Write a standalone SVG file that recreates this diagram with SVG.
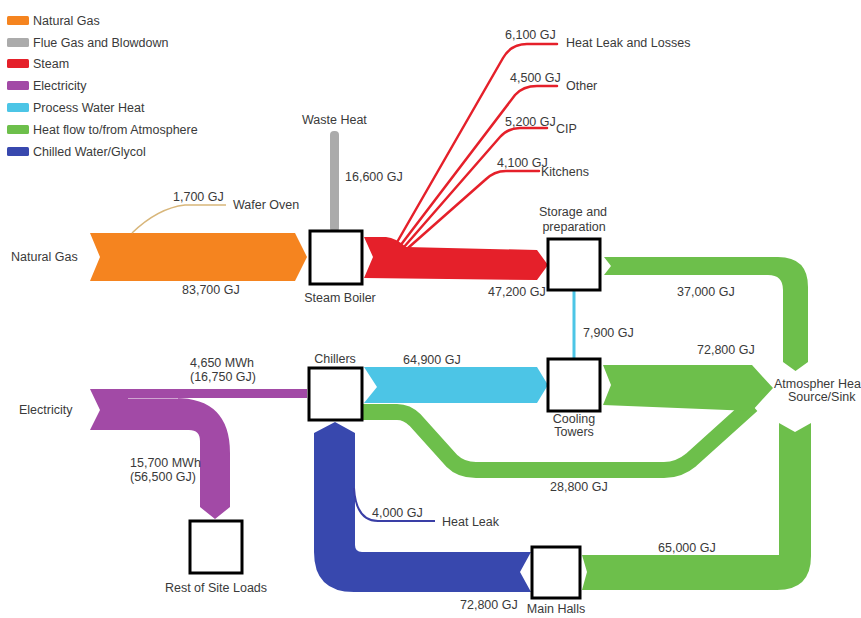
<svg xmlns="http://www.w3.org/2000/svg" width="861" height="618" viewBox="0 0 861 618">
<style>
text{font-family:"Liberation Sans",Arial,sans-serif;font-size:12.5px;fill:#3a3a3a}
.c{text-anchor:middle}
.box{fill:#fff;stroke:#000;stroke-width:3}
.og{fill:#F5841F}.gy{fill:#ABABAB}.rd{fill:#E5202A}.pu{fill:#A24AA6}.lb{fill:#4CC5E6}.gr{fill:#6DBF4B}.bl{fill:#3848AE}
.rl{fill:none;stroke:#E5202A;stroke-width:2.5;stroke-linecap:round}
</style>
<rect width="861" height="618" fill="#fff"/>
<g id="legend">
<rect class="og" x="7" y="16" width="22" height="9" rx="1.5"/><text x="33" y="25">Natural Gas</text>
<rect class="gy" x="7" y="38" width="22" height="9" rx="1.5"/><text x="33" y="47">Flue Gas and Blowdown</text>
<rect class="rd" x="7" y="59" width="22" height="9" rx="1.5"/><text x="33" y="68">Steam</text>
<rect class="pu" x="7" y="81" width="22" height="9" rx="1.5"/><text x="33" y="90">Electricity</text>
<rect class="lb" x="7" y="103" width="22" height="9" rx="1.5"/><text x="33" y="112">Process Water Heat</text>
<rect class="gr" x="7" y="125" width="22" height="9" rx="1.5"/><text x="33" y="134">Heat flow to/from Atmosphere</text>
<rect class="bl" x="7" y="147" width="22" height="9" rx="1.5"/><text x="33" y="156">Chilled Water/Glycol</text>
</g>
<g id="connectors">
<polygon class="og" points="90,233 295,233 307,257 295,281 90,281 100,257"/>
<path d="M132 233 Q158 208 185 205 L226 205" fill="none" stroke="#D8B67A" stroke-width="1.5"/>
<rect class="gy" x="330" y="131" width="9" height="101" rx="4"/>
<path class="rd" d="M364 237 L386 237 Q396 238 406 247 L537 250 L548 265 L537 280 L364 278 L373 257 Z"/>
<path class="rl" d="M396 244 L503 58 Q511 44 527 44 L557 44"/>
<path class="rl" d="M400 246 L515 95 Q523 86 537 86 L557 86"/>
<path class="rl" d="M404 247 L500 137 Q508 128 520 128 L547 128"/>
<path class="rl" d="M408 248 L485 180 Q494 171 506 171 L539 171"/>
<rect class="lb" x="572.5" y="290" width="3" height="70"/>
<path class="gr" d="M604 257 L778 257 Q808 257 808 287 L808 362 L795.5 371 L783 362 L783 290 Q783 275 768 275 L604 275 L611 266 Z"/>
<path class="pu" d="M90 389 L307 389 L307 398 L175 398 Q230 398 230 453 L230 507 L215 519 L200 507 L200 441 Q200 430 189 430 L90 430 L100 410 Z"/>
<line x1="128" y1="398.5" x2="178" y2="398.5" stroke="#fff" stroke-width="1" opacity="0.5"/>
<path d="M362 412 L397 412 Q407 412 415 420 L452 461 Q461 470 476 470 L664 470 Q679 470 691 460 L752 405" fill="none" stroke="#6DBF4B" stroke-width="16"/>
<polygon class="gr" points="603,365 752,365 773,388 752,411 603,405 611,385"/>
<polygon class="lb" points="364,367 537,367 548,385 537,403 364,403 377,387"/>
<path class="gr" d="M779 423 L795 432 L811 423 L811 556 Q811 590 777 590 L582 590 L587 572 L582 555 L779 555 Z"/>
<path class="bl" d="M531 552 L362 552 Q355 552 355 545 L355 433 L335 422 L314 433 L314 552 Q314 592 354 592 L531 592 L520 572 Z"/>
<path d="M354 488 Q356 521 378 521 L435 521" fill="none" stroke="#3A3FA6" stroke-width="2"/>
</g>
<g id="boiler"><rect class="box" x="310" y="231" width="52" height="53"/><text class="c" x="340" y="302">Steam Boiler</text></g>
<g id="storage"><rect class="box" x="548" y="239" width="52" height="51"/><text class="c" x="573" y="216">Storage and</text><text class="c" x="574" y="231">preparation</text></g>
<g id="chillers"><rect class="box" x="309" y="368" width="53" height="52"/><text class="c" x="335" y="363">Chillers</text></g>
<g id="cooling"><rect class="box" x="548" y="359" width="52" height="52"/><text class="c" x="574" y="423">Cooling</text><text class="c" x="574" y="436">Towers</text></g>
<g id="mainhalls"><rect class="box" x="532" y="547" width="48" height="51"/><text class="c" x="556" y="613">Main Halls</text></g>
<g id="restsite"><rect class="box" x="190" y="521" width="52" height="52"/><text class="c" x="216" y="592">Rest of Site Loads</text></g>
<g id="naturalgas"><text x="11" y="261">Natural Gas</text></g>
<g id="electricity"><text x="19" y="414">Electricity</text></g>
<g id="wasteheat"><text x="302" y="124">Waste Heat</text></g>
<g id="waferoven"><text x="233" y="209">Wafer Oven</text></g>
<g id="heatleaklosses"><text x="566" y="47">Heat Leak and Losses</text></g>
<g id="other"><text x="566" y="90">Other</text></g>
<g id="cip"><text x="556" y="133">CIP</text></g>
<g id="kitchens"><text x="541" y="176">Kitchens</text></g>
<g id="atmosphere"><text x="774" y="388">Atmospher Hea</text><text x="788" y="401">Source/Sink</text></g>
<g id="heatleak"><text x="442" y="526">Heat Leak</text></g>
<g id="labels">
<text x="173" y="201">1,700 GJ</text>
<text x="182" y="294">83,700 GJ</text>
<text x="345" y="181">16,600 GJ</text>
<text x="505" y="39">6,100 GJ</text>
<text x="510" y="82">4,500 GJ</text>
<text x="505" y="126">5,200 GJ</text>
<text x="497" y="167">4,100 GJ</text>
<text x="488" y="296">47,200 GJ</text>
<text x="677" y="296">37,000 GJ</text>
<text x="583" y="337">7,900 GJ</text>
<text x="697" y="354">72,800 GJ</text>
<text x="403" y="364">64,900 GJ</text>
<text x="550" y="491">28,800 GJ</text>
<text class="c" x="222" y="367">4,650 MWh</text>
<text class="c" x="223" y="381">(16,750 GJ)</text>
<text x="130" y="467">15,700 MWh</text>
<text x="130" y="481">(56,500 GJ)</text>
<text x="372" y="517">4,000 GJ</text>
<text x="658" y="552">65,000 GJ</text>
<text x="460" y="609">72,800 GJ</text>
</g>
</svg>
